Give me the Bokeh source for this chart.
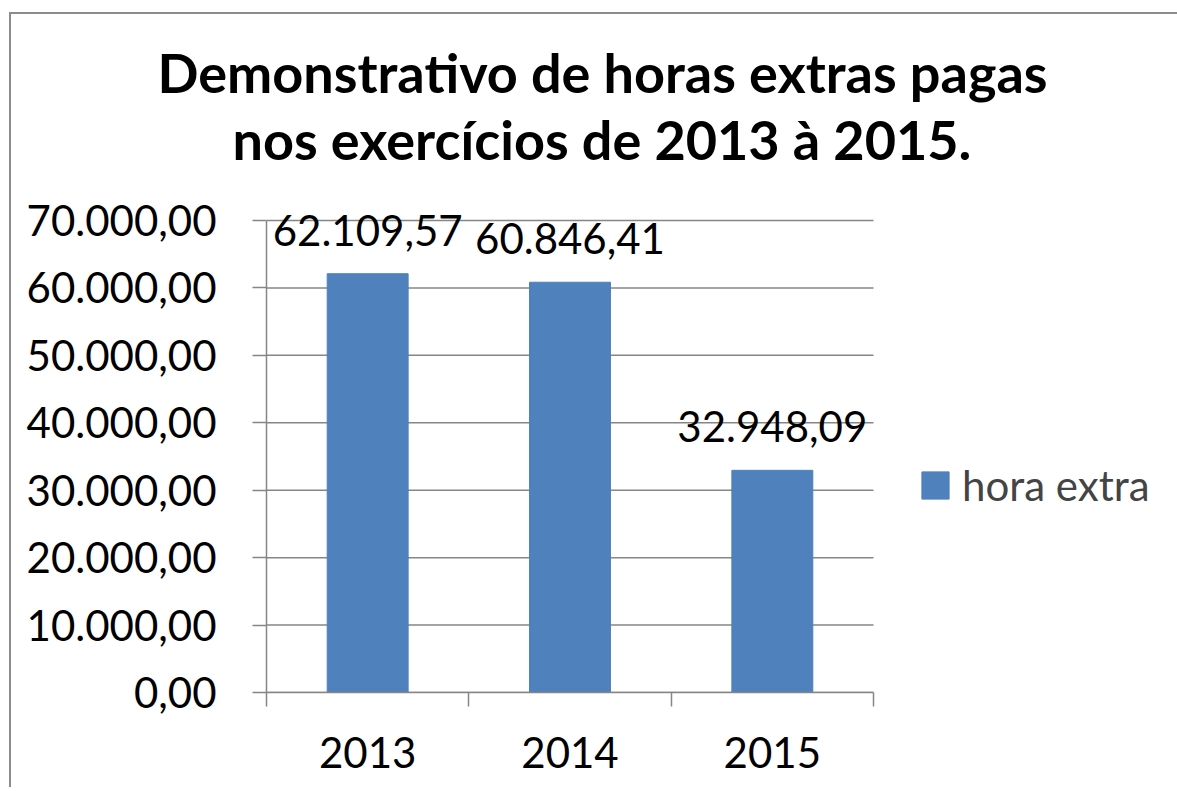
from bokeh.plotting import figure
from bokeh.models import (Range1d, LinearAxis, FixedTicker, ColumnDataSource, LabelSet,
                          Title, Legend, LegendItem)
from bokeh.core.properties import value
from bokeh.embed import file_html
from bokeh.resources import INLINE

# ---- data ----
years = ["2013", "2014", "2015"]
horas = [62109.57, 60846.41, 32948.09]
y_ticks = [0, 10000, 20000, 30000, 40000, 50000, 60000, 70000]
y_tick_labels = ["0,00", "10.000,00", "20.000,00", "30.000,00", "40.000,00",
                 "50.000,00", "60.000,00", "70.000,00"]
series_name = "hora extra"
title_lines = ["Demonstrativo de horas extras pagas", "nos exercícios de 2013 à 2015."]


def br(v):
    return f"{v:,.2f}".replace(",", "X").replace(".", ",").replace("X", ".")


n = len(years)
xs = [i + 0.5 for i in range(n)]
src = ColumnDataSource(dict(x=xs, top=horas, label=[br(v) for v in horas]))
grid_src = ColumnDataSource(dict(y=y_ticks, x0=[0] * len(y_ticks), x1=[n] * len(y_ticks)))

FONT = "Lato"
GRAY = "#868686"
BLUE = "#4F81BD"

# ---- layout geometry (page pixels) ----
OX, OY = 11, 14            # canvas origin on the page (after margin + border)
AX_LEFT, AX_BOTTOM = 266, 692
FRAME_RIGHT, FRAME_TOP = 917, 172
CAT_PX = 607 / 3           # pixels per category
Y_PX = 472 / 70000         # pixels per unit
FW = FRAME_RIGHT - AX_LEFT
FH = AX_BOTTOM - FRAME_TOP
BOTTOM = 95

p = figure(frame_width=FW, frame_height=FH, min_border_left=AX_LEFT - OX,
           min_border_right=1175 - FRAME_RIGHT, min_border_top=FRAME_TOP - OY,
           min_border_bottom=BOTTOM,
           x_range=Range1d(0, FW / CAT_PX), y_range=Range1d(0, FH / Y_PX),
           output_backend="svg", toolbar_location=None, x_axis_location=None,
           y_axis_location=None)
p.title_location = None
p.styles = {"margin-left": "9px", "margin-top": "12px",
            "border-left": "2px solid #8c8c8c", "border-top": "2px solid #8c8c8c"}
p.outline_line_color = None
p.background_fill_color = "white"
p.border_fill_color = "white"
p.xgrid.visible = False
p.ygrid.visible = False

p.segment(x0="x0", x1="x1", y0="y", y1="y", source=grid_src, line_color=GRAY, line_width=1.5)
bars = p.vbar(x="x", top="top", width=0.4, source=src, fill_color=BLUE, line_color=BLUE)

# y axis
yax = LinearAxis(ticker=FixedTicker(ticks=y_ticks), bounds=(0, max(y_ticks)),
                 major_label_overrides={t: l for t, l in zip(y_ticks, y_tick_labels)})
yax.axis_line_color = GRAY
yax.axis_line_width = 1.5
yax.major_tick_line_color = GRAY
yax.major_tick_line_width = 1.5
yax.major_tick_out = 14
yax.major_tick_in = 0
yax.minor_tick_line_color = None
yax.major_label_standoff = 36
yax.major_label_text_font = FONT
yax.major_label_text_font_size = "42px"
yax.major_label_text_color = "black"
p.add_layout(yax, "left")

# x axis: labels at category centres, tick marks at category boundaries
xax = LinearAxis(ticker=FixedTicker(ticks=xs, minor_ticks=list(range(n + 1))), bounds=(0, n),
                 major_label_overrides={x: y for x, y in zip(xs, years)})
xax.axis_line_color = GRAY
xax.axis_line_width = 1.5
xax.major_tick_line_color = None
xax.major_tick_out = 0
xax.major_tick_in = 0
xax.minor_tick_line_color = GRAY
xax.minor_tick_line_width = 1.5
xax.minor_tick_out = 14
xax.minor_tick_in = 0
xax.major_label_standoff = 30
xax.major_label_text_font = FONT
xax.major_label_text_font_size = "42px"
xax.major_label_text_color = "black"
p.add_layout(xax, "below")

labels = LabelSet(x="x", y="top", text="label", source=src, text_align="center",
                  text_baseline="alphabetic", y_offset=28, text_font=value(FONT),
                  text_font_size=value("42px"), text_color="black")
p.add_layout(labels)

legend = Legend(items=[LegendItem(label=series_name, renderers=[bars])],
                location=(1, 182), glyph_width=34, glyph_height=34,
                label_standoff=10, label_text_font=FONT, label_text_font_size="42px",
                margin=0, padding=0, border_line_color=None, background_fill_alpha=0)
p.add_layout(legend, "right")

# title: second line closest to the frame, first line above it
for line, off in zip(reversed(title_lines), [232 - AX_LEFT, 157 - AX_LEFT]):
    p.add_layout(Title(text=line, align="left", offset=off, vertical_align="middle",
                       standoff=0, text_font=FONT, text_font_style="bold",
                       text_font_size="54px", text_color="black"), "above")

open("out.html", "w").write(file_html(p, INLINE))
